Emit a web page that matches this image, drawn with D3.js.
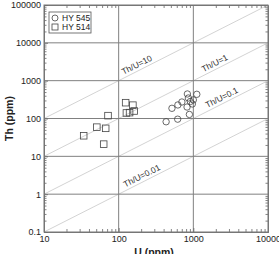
<!DOCTYPE html>
<html lang="en">
<head>
    <title>Th vs U</title>
    <script src="https://d3js.org/d3.v7.min.js"></script>
    <style>
        body { margin: 0; background: #fff; }
        text { font-family: "Liberation Sans", Arial, sans-serif; }
    </style>
</head>
<body>
    <svg width="279" height="254" id="mainsvg"></svg>

    <script>
        // data
        const seriesNames = ['HY 545', 'HY 514']
        const hy545U  = [832, 1113, 858, 912, 970, 1000, 703, 621, 517, 824, 885, 617, 432]
        const hy545Th = [445, 436, 348, 282, 242, 310, 273, 228, 186, 201, 128, 96, 82]
        const hy514U  = [124, 155, 127, 140, 161, 72, 51, 67, 34, 63]
        const hy514Th = [262, 225, 140, 143, 158, 119, 59, 55, 35, 21]
        const ratios = [10, 1, 0.1, 0.01]
        const ratioLabels = ['Th/U=10', 'Th/U=1', 'Th/U=0.1', 'Th/U=0.01']
        const xTicks = [10, 100, 1000, 10000]
        const yTicks = [0.1, 1, 10, 100, 1000, 10000, 100000]
        const xTickLabels = ['10', '100', '1000', '10000']
        const yTickLabels = ['0.1', '1', '10', '100', '1000', '10000', '100000']

        const svg = d3.select('#mainsvg')
        const margin = {top: 5, right: 11, bottom: 22, left: 44}
        const width = +svg.attr('width')
        const height = +svg.attr('height')

        const xScale = d3.scaleLog().domain([10, 10000]).range([margin.left, width - margin.right])
        const yScale = d3.scaleLog().domain([0.1, 100000]).range([height - margin.bottom, margin.top])
        const x0 = xScale.range()[0], x1 = xScale.range()[1]
        const y0 = yScale.range()[0], y1 = yScale.range()[1]

        // minor ticks: 2..9 in each decade
        const minorX = [], minorY = []
        xTicks.slice(0, -1).forEach(d => { for (let k = 2; k < 10; k++) minorX.push(d * k) })
        yTicks.slice(0, -1).forEach(d => { for (let k = 2; k < 10; k++) minorY.push(d * k) })

        const g = svg.append('g')

        // diagonal Th/U lines
        ratios.forEach(r => {
            const u0 = Math.max(10, 0.1 / r), u1 = Math.min(10000, 100000 / r)
            g.append('line')
                .attr('x1', xScale(u0)).attr('y1', yScale(u0 * r))
                .attr('x2', xScale(u1)).attr('y2', yScale(u1 * r))
                .attr('stroke', '#c8c8c8').attr('stroke-width', 0.8)
        })

        // grid
        yTicks.slice(1, -1).forEach(v => {
            g.append('line').attr('x1', x0).attr('x2', x1)
                .attr('y1', yScale(v)).attr('y2', yScale(v))
                .attr('stroke', '#808080').attr('stroke-width', 1)
        })
        xTicks.slice(1, -1).forEach(v => {
            g.append('line').attr('y1', y0).attr('y2', y1)
                .attr('x1', xScale(v)).attr('x2', xScale(v))
                .attr('stroke', '#808080').attr('stroke-width', 1)
        })

        // axes (ticks inward)
        const styleAxis = sel => {
            sel.selectAll('.domain').attr('stroke', '#777')
            sel.selectAll('.tick line').attr('stroke', '#666').attr('stroke-width', 0.8)
            sel.selectAll('text').attr('font-size', 9).attr('fill', '#222')
                .attr('font-family', '"Liberation Sans", Arial, sans-serif')
        }
        const fmtX = d => xTickLabels[xTicks.indexOf(d)]
        const fmtY = d => yTickLabels[yTicks.indexOf(d)]

        g.append('g').attr('transform', `translate(0,${y0})`)
            .call(d3.axisBottom(xScale).tickValues(xTicks).tickFormat(fmtX).tickSize(-4).tickPadding(4))
            .call(styleAxis)
        g.append('g').attr('transform', `translate(0,${y0})`)
            .call(d3.axisBottom(xScale).tickValues(minorX).tickFormat('').tickSize(-3).tickSizeOuter(0))
            .call(styleAxis)
        g.append('g').attr('transform', `translate(0,${y1})`)
            .call(d3.axisTop(xScale).tickValues(minorX).tickFormat('').tickSize(-3).tickSizeOuter(0))
            .call(styleAxis)
        g.append('g').attr('transform', `translate(${x0},0)`)
            .call(d3.axisLeft(yScale).tickValues(yTicks).tickFormat(fmtY).tickSize(-4).tickPadding(3))
            .call(styleAxis)
        g.append('g').attr('transform', `translate(${x0},0)`)
            .call(d3.axisLeft(yScale).tickValues(minorY).tickFormat('').tickSize(-2.5).tickSizeOuter(0))
            .call(styleAxis)
        g.append('g').attr('transform', `translate(${x1},0)`)
            .call(d3.axisRight(yScale).tickValues(minorY).tickFormat('').tickSize(-2.5).tickSizeOuter(0))
            .call(styleAxis)

        g.append('rect').attr('x', x0).attr('y', y1)
            .attr('width', x1 - x0).attr('height', y0 - y1)
            .attr('fill', 'none').attr('stroke', '#777').attr('stroke-width', 1)

        // ratio labels, placed along each line
        const labelU = [190, 2100, 2600, 222]
        const angle = Math.atan2(yScale(1) - yScale(10), xScale(100) - xScale(10)) * 180 / Math.PI
        ratios.forEach((r, i) => {
            const px = xScale(labelU[i]), py = yScale(labelU[i] * r)
            g.append('text')
                .attr('transform', `translate(${px},${py}) rotate(${-angle})`)
                .attr('y', -3)
                .attr('text-anchor', 'middle')
                .attr('font-size', 8.5)
                .attr('fill', '#333')
                .text(ratioLabels[i])
        })

        // points
        const stroke = '#444'
        hy545U.forEach((u, i) => {
            g.append('circle')
                .attr('cx', xScale(u)).attr('cy', yScale(hy545Th[i])).attr('r', 3.2)
                .attr('fill', 'none').attr('stroke', stroke).attr('stroke-width', 0.8)
        })
        hy514U.forEach((u, i) => {
            g.append('rect')
                .attr('x', xScale(u) - 3.3).attr('y', yScale(hy514Th[i]) - 3.3)
                .attr('width', 6.6).attr('height', 6.6)
                .attr('fill', 'none').attr('stroke', stroke).attr('stroke-width', 0.8)
        })

        // legend
        const lg = g.append('g').attr('transform', 'translate(49,12)')
        lg.append('rect').attr('width', 42).attr('height', 21)
            .attr('fill', '#fff').attr('stroke', '#555').attr('stroke-width', 0.8)
        lg.append('circle').attr('cx', 6).attr('cy', 6).attr('r', 3)
            .attr('fill', 'none').attr('stroke', stroke).attr('stroke-width', 0.8)
        lg.append('rect').attr('x', 3).attr('y', 12).attr('width', 6).attr('height', 6)
            .attr('fill', 'none').attr('stroke', stroke).attr('stroke-width', 0.8)
        seriesNames.forEach((n, i) => {
            lg.append('text').attr('x', 13).attr('y', 9 + i * 9)
                .attr('font-size', 8.5).attr('fill', '#222').text(n)
        })

        // axis titles
        svg.append('text')
            .attr('transform', `translate(13,${(y0 + y1) / 2}) rotate(-90)`)
            .attr('text-anchor', 'middle')
            .attr('font-size', 10.5).attr('font-weight', 'bold').attr('fill', '#222')
            .text('Th (ppm)')
        svg.append('text')
            .attr('x', 154).attr('y', 256)
            .attr('text-anchor', 'middle')
            .attr('font-size', 10.5).attr('font-weight', 'bold').attr('fill', '#222')
            .text('U (ppm)')
    </script>
</body>
</html>
